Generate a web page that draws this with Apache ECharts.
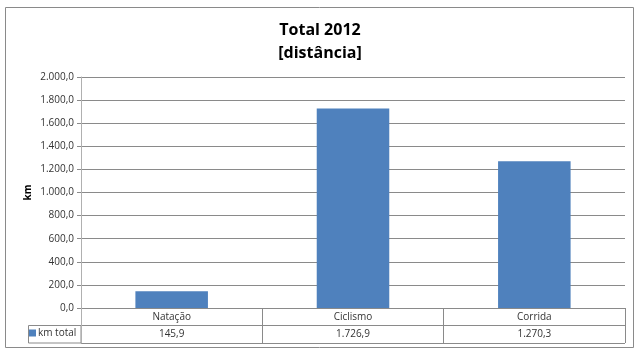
<!DOCTYPE html>
<html>
<head>
<meta charset="utf-8">
<script src="https://cdn.jsdelivr.net/npm/echarts@6/dist/echarts.min.js"></script>
<style>html,body{margin:0;padding:0;background:#fff}#c{width:640px;height:356px}</style>
</head>
<body>
<div id="c"></div>
<script>
var categories = ['Natação', 'Ciclismo', 'Corrida'];
var kmTotal = [145.9, 1726.9, 1270.3];
var seriesName = 'km total';
var yMin = 0, yMax = 2000, yStep = 200;

function fmt(v) {
  return v.toLocaleString('pt-BR', {minimumFractionDigits: 1, maximumFractionDigits: 1});
}
var valueLabels = kmTotal.map(fmt);

var FONT = '"Open Sans", "DejaVu Sans", sans-serif';
var GRID = '#8a8a8a';
var TXT = '#333';

var chart = echarts.init(document.getElementById('c'), null, {renderer: 'canvas'});
chart.setOption({
  animation: false,
  backgroundColor: '#fff',
  title: {
    text: 'Total 2012\n[distância]',
    left: 'center',
    top: 14,
    textStyle: {fontFamily: FONT, fontSize: 16, fontWeight: 'bold', color: '#000', lineHeight: 23}
  },
  legend: {
    data: [seriesName],
    left: 29,
    top: 328,
    icon: 'rect',
    itemWidth: 7,
    itemHeight: 7,
    itemGap: 2,
    padding: 0,
    selectedMode: false,
    textStyle: {fontFamily: FONT, fontSize: 10, color: TXT, padding: [0, 0, 0, -3]}
  },
  grid: [
    {left: 81, right: 15, top: 77, bottom: 48},
    {left: 81, right: 15, top: 308, height: 35}
  ],
  xAxis: [
    {gridIndex: 0, type: 'category', data: categories,
     axisLine: {show: false}, axisTick: {show: false}, axisLabel: {show: false}},
    {gridIndex: 1, type: 'category', data: categories, position: 'top',
     axisLine: {show: false}, axisTick: {show: false},
     axisLabel: {inside: true, margin: 4, fontFamily: FONT, fontSize: 10, color: TXT},
     splitLine: {show: true, lineStyle: {color: GRID, width: 1}}},
    {gridIndex: 1, type: 'category', data: valueLabels, position: 'bottom',
     axisLine: {show: false}, axisTick: {show: false},
     axisLabel: {inside: true, margin: 4, fontFamily: FONT, fontSize: 10, color: TXT}}
  ],
  yAxis: [
    {gridIndex: 0, type: 'value', min: yMin, max: yMax, interval: yStep,
     name: 'km', nameLocation: 'middle', nameGap: 48, nameRotate: 90, nameMoveOverlap: false,
     nameTextStyle: {fontFamily: FONT, fontSize: 10, fontWeight: 'bold', color: '#000'},
     axisLine: {show: true, lineStyle: {color: '#b0b0b0'}},
     axisTick: {show: true, length: 4, lineStyle: {color: GRID}},
     axisLabel: {formatter: function (v) { return fmt(v); }, margin: 7,
                 fontFamily: FONT, fontSize: 10, color: TXT},
     splitLine: {show: true, lineStyle: {color: GRID, width: 1}}},
    {gridIndex: 1, type: 'value', min: 0, max: 2, interval: 1,
     axisLine: {show: true, lineStyle: {color: '#b0b0b0'}},
     axisTick: {show: false}, axisLabel: {show: false},
     splitLine: {show: true, lineStyle: {color: GRID, width: 1}}}
  ],
  series: [{
    name: seriesName,
    type: 'bar',
    xAxisIndex: 0, yAxisIndex: 0,
    data: kmTotal,
    barWidth: '40%',
    itemStyle: {color: '#4F81BD'}
  }],
  graphic: [
    {type: 'rect', shape: {x: 5.5, y: 7.5, width: 628, height: 340},
     style: {fill: 'none', stroke: '#8a8a8a', lineWidth: 1}, silent: true, z: -1},
    {type: 'rect', shape: {x: 28.5, y: 325.5, width: 52.5, height: 17.5},
     style: {fill: 'none', stroke: GRID, lineWidth: 1}, silent: true}
  ]
});
</script>
</body>
</html>
